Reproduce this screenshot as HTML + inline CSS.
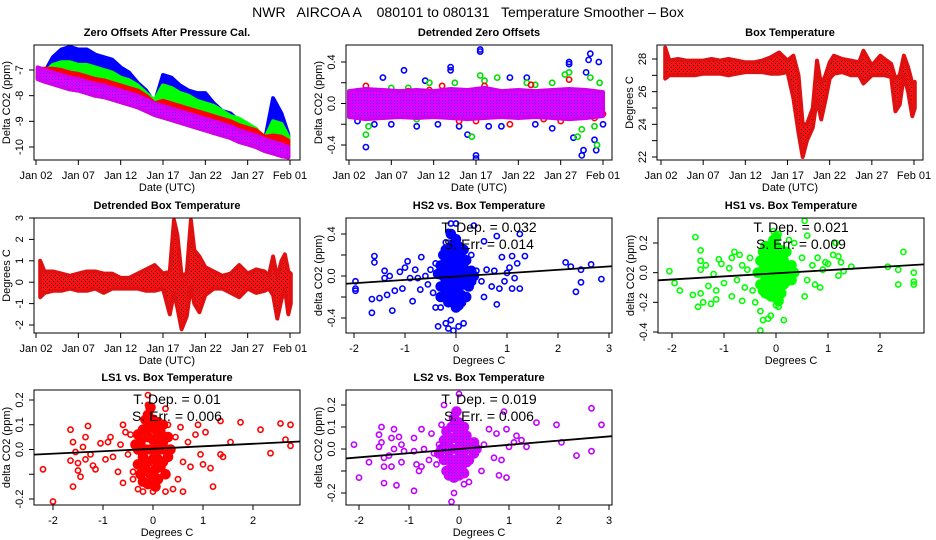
<!DOCTYPE html>
<html><head><meta charset="utf-8"><style>
html,body{margin:0;padding:0;background:#fff;}
svg{display:block;font-family:"Liberation Sans",sans-serif;}
</style></head><body>
<svg id="c" width="936" height="540" viewBox="0 0 936 540" xmlns="http://www.w3.org/2000/svg">
<defs>
<pattern id="pm" width="3" height="3" patternUnits="userSpaceOnUse"><rect width="3" height="3" fill="#e000ff"/><rect x="1" y="1" width="1" height="1" fill="#3030ff"/></pattern>
<pattern id="pr" width="4" height="4" patternUnits="userSpaceOnUse"><rect width="4" height="4" fill="#ff1010"/><rect x="1" y="1" width="1" height="1" fill="#000"/><rect x="3" y="3" width="1" height="1" fill="#400"/></pattern>
</defs>
<text x="468" y="17" text-anchor="middle" font-size="14" style="white-space:pre" xml:space="preserve">NWR   AIRCOA A    080101 to 080131   Temperature Smoother – Box</text>
</svg>
<script>
// ---------- data ----------
const dayTickLabels = ["Jan 02","Jan 07","Jan 12","Jan 17","Jan 22","Jan 27","Feb 01"];
const dayTicks = [0,5,10,15,20,25,30];

const p1Days = [0.2,1,2,3,4,5,6,7,8,9,10,11,12,13,14,15,16,17,18,19,20,21,22,23,24,25,26,27,28,29,29.8];
const p1BlueTop = [-7.2,-7.1,-6.5,-6.2,-6.1,-6.2,-6.2,-6.4,-6.5,-6.6,-6.9,-7.1,-7.5,-7.8,-8.3,-7.2,-7.3,-7.6,-7.8,-7.9,-7.9,-8.3,-8.6,-8.7,-9.0,-9.2,-9.5,-9.8,-8.1,-8.7,-9.5];
const p1GreenTop = [-7.1,-7.1,-6.8,-6.7,-6.7,-6.8,-6.8,-6.9,-7.0,-7.1,-7.3,-7.4,-7.6,-7.9,-8.2,-7.6,-7.7,-7.9,-8.0,-8.2,-8.3,-8.4,-8.6,-8.8,-8.9,-9.1,-9.3,-9.7,-9.0,-9.1,-9.6];
const p1RedTop = [-6.95,-6.95,-6.95,-7.0,-7.1,-7.15,-7.25,-7.35,-7.4,-7.5,-7.6,-7.7,-7.8,-8.0,-8.3,-8.2,-8.3,-8.4,-8.5,-8.6,-8.7,-8.8,-8.9,-9.0,-9.15,-9.25,-9.35,-9.6,-9.55,-9.6,-9.75];
const p1MagTop = [-6.9,-7.0,-7.1,-7.2,-7.3,-7.35,-7.45,-7.55,-7.6,-7.7,-7.8,-7.9,-8.0,-8.15,-8.3,-8.4,-8.5,-8.6,-8.7,-8.8,-8.9,-9.0,-9.1,-9.2,-9.35,-9.45,-9.55,-9.7,-9.8,-9.9,-10.0];
const p1MagLow = [-7.35,-7.45,-7.55,-7.65,-7.75,-7.8,-7.9,-8.0,-8.05,-8.15,-8.25,-8.35,-8.45,-8.6,-8.75,-8.85,-8.95,-9.05,-9.15,-9.25,-9.35,-9.45,-9.55,-9.65,-9.8,-9.9,-10.0,-10.15,-10.25,-10.35,-10.4];

const p2BandDays = [0,2,4,6,8,10,12,14,16,18,20,22,24,26,28,30];
const p2BandHigh = [0.12,0.14,0.13,0.12,0.13,0.12,0.14,0.13,0.15,0.12,0.13,0.12,0.13,0.14,0.13,0.11];
const p2BandLow = [-0.13,-0.15,-0.14,-0.13,-0.14,-0.13,-0.14,-0.15,-0.14,-0.13,-0.14,-0.13,-0.14,-0.15,-0.14,-0.12];
const p2Blue = [[1,-0.17],[2,-0.42],[3,-0.2],[4,0.25],[5,-0.2],[6.5,0.32],[8,-0.22],[9,0.22],[10.5,-0.2],[12,0.35],[12,0.32],[13,-0.22],[14,-0.3],[15,-0.5],[15,-0.53],[15.5,0.5],[15.5,0.52],[16.5,-0.22],[18,-0.22],[19,0.25],[21,0.25],[22,-0.2],[24,-0.24],[26,0.38],[26,0.4],[26.5,-0.33],[27.5,-0.5],[27.7,-0.45],[28,0.3],[28.3,0.42],[28.5,0.48],[29,-0.35],[29.2,-0.45],[29.5,0.4],[30,-0.2]];
const p2Green = [[1,0.12],[2,-0.3],[2.3,-0.22],[5,0.15],[7,0.15],[8,-0.15],[9.5,0.2],[12.5,0.2],[14.5,-0.32],[15.5,0.27],[16,0.22],[17.5,0.25],[21,0.2],[22,0.18],[24,0.2],[25.5,0.28],[26,0.3],[27,-0.32],[27.5,-0.25],[28.5,0.25],[29,-0.22],[29.3,-0.4],[29.6,0.2]];
const p2Red = [[1,-0.1],[2,0.17],[4,0.1],[7,0.12],[9.5,0.13],[11,0.17],[13,-0.17],[15,-0.17],[16,0.17],[19,-0.2],[21.5,0.18],[23,-0.15],[25,-0.17],[26,0.23],[27.5,-0.12],[29,-0.14],[30,-0.1]];

const p3Days = [0.5,1,2,3,4,5,6,7,8,9,10,11,12,13,14,15,15.7,16.3,16.8,17.3,18,18.5,19,19.5,20,20.5,21.5,22.5,23.5,24,25,26,26.5,27.3,27.8,28.3,28.8,29.3,29.8,30.1];
const p3High = [28.7,27.9,28.0,27.9,27.9,27.9,28.0,27.9,28.0,27.9,27.8,27.8,27.9,28.1,28.4,27.9,28.2,27.0,24.0,24.0,25.0,27.9,26.4,27.0,27.8,28.2,28.0,27.9,27.8,28.5,27.6,28.2,28.0,27.7,26.8,27.0,28.2,27.5,26.5,26.6];
const p3Low = [26.8,27.0,27.0,27.0,27.0,27.1,27.1,27.1,27.0,27.1,27.2,27.2,27.2,27.1,27.1,27.2,25.6,23.5,22.0,23.0,23.8,25.6,24.3,25.5,26.8,27.1,27.2,27.0,27.0,26.5,27.0,27.0,27.0,26.9,24.8,25.2,27.0,26.0,24.5,25.0];

const p4Days = [0.5,1,2,3,4,5,6,7,8,9,10,11,12,13,14,15,15.8,16.3,16.7,17.2,17.8,18.3,18.7,19.3,20,21,22,23,24,25,26,27,27.5,28,28.5,29,29.4,29.8,30.1];
const p4High = [1.0,0.5,0.5,0.4,0.3,0.4,0.5,0.5,0.4,0.4,0.2,0.2,0.4,0.6,0.8,0.4,0.5,2.9,2.2,0.3,0.4,2.9,1.5,1.2,0.7,0.5,0.3,0.4,0.8,0.4,0.6,0.5,0.3,1.2,0.2,1.0,1.3,0.5,0.4];
const p4Low = [-0.7,-0.5,-0.4,-0.4,-0.3,-0.4,-0.4,-0.3,-0.5,-0.3,-0.3,-0.3,-0.3,-0.4,-0.4,-0.3,-1.5,-0.5,-1.2,-2.2,-1.6,-0.2,-1.0,-1.4,-0.6,-0.3,-0.3,-0.5,-0.7,-0.3,-0.5,-0.4,-0.3,-0.6,-1.7,-0.8,-0.3,-1.5,-1.0];

const hs2Pts = [[-1.97,-0.05],[-1.97,-0.12],[-1.97,-0.14],[-1.6,0.19],[-1.6,0.13],[-1.65,-0.22],[-1.65,-0.35],[-1.5,-0.21],[-1.4,0.05],[-1.4,-0.02],[-1.35,-0.18],[-1.3,0.0],[-1.25,-0.33],[-1.2,-0.14],[-1.1,0.04],[-1.05,-0.12],[-1.0,0.08],[-0.95,0.14],[-0.9,-0.02],[-0.85,-0.24],[-0.8,0.06],[-0.75,-0.02],[-0.7,-0.13],[-0.68,0.18],[-0.6,0.0],[-0.55,-0.08],[-0.5,0.06],[-0.45,-0.16],[-0.4,0.12],[-0.4,-0.3],[-0.35,-0.48],[-0.3,-0.3],[-0.2,-0.45],[-0.15,-0.5],[-0.1,-0.42],[-0.05,-0.52],[0.05,-0.48],[0.15,-0.45],[-0.2,0.32],[-0.15,0.42],[-0.1,0.5],[0.0,0.5],[0.35,0.48],[0.55,0.33],[0.3,0.2],[0.4,0.05],[0.5,-0.05],[0.55,-0.2],[0.6,0.06],[0.7,-0.1],[0.75,0.05],[0.8,-0.27],[0.8,0.38],[0.85,-0.12],[0.9,0.18],[0.95,-0.05],[1.0,0.03],[1.05,0.08],[1.1,0.19],[1.15,-0.02],[1.2,0.12],[1.25,0.4],[1.35,0.19],[1.1,-0.12],[1.25,-0.12],[2.15,0.13],[2.25,0.09],[2.35,-0.15],[2.45,-0.06],[2.45,0.06],[2.65,0.11],[2.85,-0.03]];
const hs2Core = [[-0.3,0.1],[-0.3,-0.1],[-0.25,0.0],[-0.25,0.2],[-0.25,-0.2],[-0.2,0.05],[-0.2,-0.05],[-0.2,0.15],[-0.2,-0.15],[-0.15,0.25],[-0.15,0.0],[-0.15,-0.25],[-0.1,0.1],[-0.1,-0.1],[-0.1,0.2],[-0.1,-0.2],[-0.05,0.3],[-0.05,0.0],[-0.05,0.15],[-0.05,-0.15],[0.0,0.05],[0.0,-0.05],[0.0,0.22],[0.0,-0.22],[0.0,0.35],[0.05,0.1],[0.05,-0.1],[0.05,0.28],[0.05,-0.28],[0.1,0.0],[0.1,0.18],[0.1,-0.18],[0.15,0.08],[0.15,-0.08],[0.15,0.25],[0.2,0.0],[0.2,-0.2],[0.2,0.15],[0.25,-0.1],[0.3,0.05],[0.3,-0.05],[-0.35,0.02],[0.35,0.0],[-0.1,0.4],[0.0,-0.3],[-0.05,0.08],[0.05,0.02],[-0.2,0.25],[0.1,-0.25],[-0.3,-0.2]];
const hs2Slope = [0.032], hs2Int = [-0.005];

const hs1Pts = [[-2.05,0.01],[-1.95,-0.07],[-1.85,-0.12],[-1.6,-0.15],[-1.55,0.24],[-1.5,-0.23],[-1.45,-0.14],[-1.45,0.15],[-1.45,0.08],[-1.45,0.02],[-1.4,-0.2],[-1.35,0.05],[-1.3,-0.09],[-1.25,-0.21],[-1.2,-0.01],[-1.15,-0.12],[-1.15,-0.18],[-1.1,0.09],[-1.05,0.06],[-1.0,-0.07],[-0.9,0.03],[-0.85,0.1],[-0.85,-0.16],[-0.8,0.14],[-0.75,-0.05],[-0.7,0.12],[-0.65,-0.19],[-0.65,0.05],[-0.6,-0.1],[-0.55,0.02],[-0.5,0.1],[-0.45,-0.12],[-0.4,-0.2],[-0.3,-0.26],[-0.3,-0.39],[-0.25,-0.32],[-0.15,-0.31],[-0.1,-0.29],[0.0,-0.22],[0.05,-0.23],[0.15,-0.32],[-0.05,0.28],[0.05,0.26],[0.55,0.35],[0.6,0.25],[0.25,0.22],[0.35,0.2],[0.5,0.1],[0.55,-0.16],[0.6,-0.05],[0.7,0.05],[0.75,-0.08],[0.8,0.1],[0.85,-0.1],[0.9,0.02],[0.95,0.07],[1.0,0.06],[1.1,0.12],[1.15,0.2],[1.2,0.11],[1.2,-0.02],[1.25,0.07],[1.3,0.01],[1.45,0.04],[2.15,0.04],[2.35,0.02],[2.35,-0.08],[2.45,0.14],[2.65,0.0],[2.65,-0.06],[2.65,-0.08]];
const hs1Core = [[-0.35,0.0],[-0.3,0.08],[-0.3,-0.08],[-0.25,0.02],[-0.25,0.14],[-0.25,-0.12],[-0.2,0.06],[-0.2,-0.04],[-0.2,0.18],[-0.2,-0.14],[-0.15,0.0],[-0.15,0.1],[-0.15,-0.1],[-0.1,0.05],[-0.1,-0.05],[-0.1,0.16],[-0.1,-0.16],[-0.05,0.0],[-0.05,0.12],[-0.05,-0.12],[-0.05,0.22],[0.0,0.06],[0.0,-0.06],[0.0,0.18],[0.0,-0.17],[0.05,0.0],[0.05,0.1],[0.05,-0.1],[0.1,0.04],[0.1,-0.04],[0.1,0.15],[0.1,-0.14],[0.15,0.0],[0.15,0.08],[0.15,-0.08],[0.2,0.03],[0.2,-0.06],[0.2,0.14],[0.25,-0.02],[0.3,0.05],[0.3,-0.05],[0.35,0.0],[0.0,0.24],[0.05,-0.19]];
const hs1Slope = [0.021], hs1Int = [-0.004];

const ls1Pts = [[-2.2,-0.08],[-2.0,-0.21],[-1.65,0.08],[-1.65,-0.045],[-1.6,-0.15],[-1.6,0.03],[-1.55,-0.01],[-1.5,-0.055],[-1.5,-0.085],[-1.45,-0.11],[-1.4,0.01],[-1.35,-0.04],[-1.35,0.05],[-1.3,0.095],[-1.25,-0.02],[-1.2,-0.065],[-1.15,-0.08],[-1.05,0.025],[-0.95,-0.04],[-0.9,0.03],[-0.85,0.05],[-0.8,-0.03],[-0.7,-0.09],[-0.65,0.02],[-0.6,0.1],[-0.6,-0.135],[-0.55,0.07],[-0.5,-0.02],[-0.45,0.06],[-0.4,-0.12],[-0.4,-0.09],[-0.3,-0.16],[-0.2,-0.17],[-0.1,0.22],[-0.1,0.18],[0.0,-0.17],[0.25,0.165],[0.25,-0.17],[0.3,0.1],[0.4,-0.16],[0.45,0.05],[0.5,-0.12],[0.55,0.09],[0.6,-0.17],[0.6,-0.05],[0.7,0.03],[0.75,-0.07],[0.85,0.06],[0.9,0.1],[0.95,-0.02],[1.0,-0.06],[1.05,0.07],[1.15,-0.075],[1.2,-0.15],[1.35,0.115],[1.35,-0.02],[1.4,-0.03],[1.55,0.03],[1.75,0.11],[2.15,0.08],[2.35,-0.015],[2.55,0.105],[2.65,0.04],[2.75,0.1],[2.75,0.015]];
const ls1Core = [[-0.3,0.0],[-0.3,0.06],[-0.3,-0.06],[-0.25,0.03],[-0.25,-0.1],[-0.2,0.08],[-0.2,-0.03],[-0.2,-0.13],[-0.15,0.0],[-0.15,0.12],[-0.15,-0.08],[-0.1,0.05],[-0.1,-0.05],[-0.1,0.14],[-0.1,-0.14],[-0.05,0.0],[-0.05,0.09],[-0.05,-0.1],[-0.05,0.17],[0.0,0.04],[0.0,-0.04],[0.0,0.12],[0.0,-0.12],[0.05,0.0],[0.05,0.08],[0.05,-0.08],[0.05,-0.15],[0.1,0.04],[0.1,-0.04],[0.1,0.11],[0.1,-0.12],[0.15,0.0],[0.15,0.07],[0.15,-0.07],[0.2,0.03],[0.2,-0.05],[0.2,0.1],[0.25,0.0],[0.25,-0.1],[0.3,0.05],[0.3,-0.03],[-0.35,0.02],[0.35,0.0]];
const ls1Slope = [0.01], ls1Int = [0.003];

const ls2Pts = [[-2.1,0.02],[-2.0,-0.13],[-1.8,-0.06],[-1.6,0.065],[-1.6,0.01],[-1.55,0.1],[-1.55,0.03],[-1.5,-0.04],[-1.5,-0.08],[-1.5,-0.155],[-1.4,-0.03],[-1.35,0.05],[-1.35,-0.08],[-1.3,0.09],[-1.3,0.0],[-1.25,-0.165],[-1.2,0.055],[-1.15,0.02],[-1.15,-0.06],[-1.1,-0.01],[-0.9,-0.19],[-0.9,0.05],[-0.9,-0.01],[-0.85,-0.07],[-0.8,-0.1],[-0.75,0.09],[-0.75,-0.08],[-0.7,0.0],[-0.6,-0.05],[-0.55,0.07],[-0.5,-0.02],[-0.45,-0.07],[-0.4,0.02],[-0.35,0.11],[-0.3,0.2],[-0.15,-0.24],[-0.1,-0.2],[0.0,0.25],[0.1,-0.16],[0.2,-0.15],[0.45,-0.1],[0.5,0.02],[0.6,0.09],[0.7,-0.04],[0.75,0.07],[0.8,-0.12],[0.85,-0.05],[0.9,0.17],[0.95,0.09],[0.95,-0.13],[1.0,0.01],[1.1,0.03],[1.15,0.06],[1.25,0.04],[1.35,0.01],[1.55,0.12],[1.95,0.11],[2.05,0.03],[2.35,-0.03],[2.65,0.185],[2.65,-0.01],[2.85,0.11]];
const ls2Core = [[-0.35,0.0],[-0.3,0.04],[-0.3,-0.05],[-0.25,0.0],[-0.25,-0.1],[-0.25,0.08],[-0.2,0.04],[-0.2,-0.04],[-0.2,-0.12],[-0.15,0.0],[-0.15,0.1],[-0.15,-0.08],[-0.1,0.05],[-0.1,-0.05],[-0.1,0.14],[-0.1,-0.13],[-0.05,0.0],[-0.05,0.09],[-0.05,-0.09],[-0.05,0.17],[0.0,0.04],[0.0,-0.04],[0.0,0.12],[0.0,-0.12],[0.05,0.0],[0.05,0.08],[0.05,-0.08],[0.1,0.04],[0.1,-0.04],[0.1,0.1],[0.1,-0.11],[0.15,0.0],[0.15,0.06],[0.15,-0.06],[0.2,0.02],[0.2,-0.05],[0.25,0.0],[0.3,0.03],[0.3,-0.02],[0.35,0.0],[-0.4,-0.02]];
const ls2Slope = [0.019], ls2Int = [0.0];

// ---------- drawing ----------
const svg = document.getElementById('c');
const NS = 'http://www.w3.org/2000/svg';
function mk(tag, attrs, parent){ const e=document.createElementNS(NS,tag); for(const k in attrs) e.setAttribute(k,attrs[k]); (parent||svg).appendChild(e); return e; }
function lin(r){ const s=(r[3]-r[1])/(r[2]-r[0]); return v=>r[1]+(v-r[0])*s; }

let clipN=0;
function panel(cfg){
  const g = mk('g',{});
  
  
  const X=lin(cfg.xr), Y=lin(cfg.yr);
  const b=cfg.box;
  const id='cl'+(clipN++);
  const cp=mk('clipPath',{id:id},g); mk('rect',{x:b[0],y:b[1],width:b[2]-b[0],height:b[3]-b[1]},cp);
  const plot=mk('g',{'clip-path':'url(#'+id+')'},g);
  
  
  const t=mk('text',{x:(b[0]+b[2])/2,y:b[1]-9,'text-anchor':'middle','font-size':'11','font-weight':'bold'},g);
  t.textContent=cfg.title;
  
  
  const bx=mk('rect',{x:b[0],y:b[1],width:b[2]-b[0],height:b[3]-b[1],fill:'none',stroke:'#000','stroke-width':'1'},g);
  
  
  const xa=mk('g',{},g);
  
  
  mk('line',{x1:X(cfg.xt[0]),x2:X(cfg.xt[cfg.xt.length-1]),y1:b[3],y2:b[3],stroke:'#000'},xa);
  cfg.xt.forEach((v,i)=>{
    mk('line',{x1:X(v),x2:X(v),y1:b[3],y2:b[3]+5,stroke:'#000'},xa);
    const tl=mk('text',{x:X(v),y:b[3]+19,'text-anchor':'middle','font-size':'11'},xa);
    tl.textContent=cfg.xl[i];
    
    
  });
  const xt=mk('text',{x:(b[0]+b[2])/2,y:b[3]+31,'text-anchor':'middle','font-size':'11'},g);
  xt.textContent=cfg.xtitle;
  
  
  const ya=mk('g',{},g);
  
  
  mk('line',{x1:b[0],x2:b[0],y1:Y(cfg.yt[0]),y2:Y(cfg.yt[cfg.yt.length-1]),stroke:'#000'},ya);
  cfg.yt.forEach((v,i)=>{
    mk('line',{x1:b[0]-5,x2:b[0],y1:Y(v),y2:Y(v),stroke:'#000'},ya);
    if(cfg.yl[i]!==''){
      const yy=Y(v), xx=b[0]-11;
      const tl=mk('text',{x:xx,y:yy,'text-anchor':'middle','font-size':'11',transform:'rotate(-90 '+xx+' '+yy+')'},ya);
      tl.textContent=cfg.yl[i];
      
      
    }
  });
  const yx=b[0]-24, yy=(b[1]+b[3])/2;
  const ytl=mk('text',{x:yx,y:yy,'text-anchor':'middle','font-size':'11',transform:'rotate(-90 '+yx+' '+yy+')'},g);
  ytl.textContent=cfg.ytitle;
  
  
  return {X,Y,plot,g,b};
}
function band(P,xs,hi,lo,fill,stroke,name){
  let pts=xs.map((d,i)=>P.X(d).toFixed(1)+','+P.Y(hi[i]).toFixed(1));
  for(let i=xs.length-1;i>=0;i--) pts.push(P.X(xs[i]).toFixed(1)+','+P.Y(lo[i]).toFixed(1));
  const e=mk('polygon',{points:pts.join(' '),fill:fill,stroke:stroke,'stroke-width':'4','stroke-linejoin':'round'},P.plot);
  
  
}
function pts(P,arr,color,name,filled){
  arr.forEach(p=>{
    const c=mk('circle',{cx:P.X(p[0]).toFixed(1),cy:P.Y(p[1]).toFixed(1),r:filled?4.5:2.6,fill:filled?color:'none',stroke:color,'stroke-width':'1.6'},P.plot);
    
    
  });
}
function reg(P,slope,inter,name){
  const x0=-3,x1=4;
  const l=mk('line',{x1:P.X(x0),y1:P.Y(inter[0]+slope[0]*x0),x2:P.X(x1),y2:P.Y(inter[0]+slope[0]*x1),stroke:'#000','stroke-width':'1.8'},P.plot);
  
  
}
function note(P,slope,err,ty){
  const cx=(P.b[0]+P.b[2])/2+10;
  const a=mk('text',{x:cx,y:ty,'text-anchor':'middle','font-size':'14'},P.g);
  a.textContent='T. Dep. =  '+slope;
  
  
  const b=mk('text',{x:cx,y:ty+17,'text-anchor':'middle','font-size':'14'},P.g);
  b.textContent='S. Err. =  '+err;
  
  
}

let P=panel({name:'zero-offsets-panel',title:'Zero Offsets After Pressure Cal.',box:[34,45,300,160],xr:[0,36,30,290],yr:[-7,70,-10,147],xt:dayTicks,xl:dayTickLabels,yt:[-7,-8,-9,-10],yl:['-7','-8','-9','-10'],xtitle:'Date (UTC)',ytitle:'Delta CO2 (ppm)'});
band(P,p1Days,p1BlueTop,p1MagLow,'#0000ff','#0000ff','hs2-band');
band(P,p1Days,p1GreenTop,p1MagLow,'#00ff00','#00ff00','hs1-band');
band(P,p1Days,p1RedTop,p1MagLow,'#ff0000','#ff0000','ls1-band');
band(P,p1Days,p1MagTop,p1MagLow,'url(#pm)','#d000f0','ls2-band');

P=panel({name:'detrended-zero-offsets-panel',title:'Detrended Zero Offsets',box:[346,45,612,160],xr:[0,349,30,603],yr:[0.4,62,-0.4,145],xt:dayTicks,xl:dayTickLabels,yt:[-0.4,-0.2,0,0.2,0.4],yl:['-0.4','','0.0','','0.4'],xtitle:'Date (UTC)',ytitle:'Delta CO2  (ppm)'});
pts(P,p2Blue,'#0000ff','hs2-point');
pts(P,p2Green,'#00e000','hs1-point');
pts(P,p2Red,'#ff0000','ls1-point');
band(P,p2BandDays,p2BandHigh,p2BandLow,'url(#pm)','#d000f0','ls2-band');

P=panel({name:'box-temperature-panel',title:'Box Temperature',box:[657,45,923,160],xr:[0,661,30,914],yr:[28,59,22,157],xt:dayTicks,xl:dayTickLabels,yt:[22,23,24,25,26,27,28],yl:['22','','24','','26','','28'],xtitle:'Date (UTC)',ytitle:'Degrees C'});
band(P,p3Days,p3High,p3Low,'url(#pr)','#e01010','box-temperature-band');

P=panel({name:'detrended-box-temperature-panel',title:'Detrended Box Temperature',box:[34,218,300,333],xr:[0,36,30,290],yr:[3,218,-2,325],xt:dayTicks,xl:dayTickLabels,yt:[-2,-1,0,1,2,3],yl:['-2','-1','0','1','2','3'],xtitle:'Date (UTC)',ytitle:'Degrees C'});
band(P,p4Days,p4High,p4Low,'url(#pr)','#e01010','detrended-temperature-band');

P=panel({name:'hs2-vs-temperature-panel',title:'HS2 vs. Box Temperature',box:[346,218,612,333],xr:[-2,354,3,609],yr:[0.4,234,-0.4,318],xt:[-2,-1,0,1,2,3],xl:['-2','-1','0','1','2','3'],yt:[-0.4,-0.2,0,0.2,0.4],yl:['-0.4','','0.0','','0.4'],xtitle:'Degrees C',ytitle:'delta CO2 (ppm)'});
pts(P,hs2Core,'#0000ff','hs2-core-point',true);
pts(P,hs2Pts,'#0000ff','hs2-point');
reg(P,hs2Slope,hs2Int,'hs2-regression-line');
note(P,'0.032','0.014',232);

P=panel({name:'hs1-vs-temperature-panel',title:'HS1 vs. Box Temperature',box:[658,218,924,333],xr:[-2,672,2,880],yr:[0.2,243,-0.4,332],xt:[-2,-1,0,1,2],xl:['-2','-1','0','1','2'],yt:[-0.4,-0.2,0,0.2],yl:['-0.4','-0.2','0.0','0.2'],xtitle:'Degrees C',ytitle:'delta CO2 (ppm)'});
pts(P,hs1Core,'#00ff00','hs1-core-point',true);
pts(P,hs1Pts,'#00ff00','hs1-point');
reg(P,hs1Slope,hs1Int,'hs1-regression-line');
note(P,'0.021','0.009',232);

P=panel({name:'ls1-vs-temperature-panel',title:'LS1 vs. Box Temperature',box:[34,390,300,505],xr:[-2,53,2,253],yr:[0.2,400,-0.2,499],xt:[-2,-1,0,1,2],xl:['-2','-1','0','1','2'],yt:[-0.2,-0.1,0,0.1,0.2],yl:['-0.2','','0.0','0.1','0.2'],xtitle:'Degrees C',ytitle:'delta CO2 (ppm)'});
pts(P,ls1Core,'#ff0000','ls1-core-point',true);
pts(P,ls1Pts,'#ff0000','ls1-point');
reg(P,ls1Slope,ls1Int,'ls1-regression-line');
note(P,'0.01','0.006',404);

P=panel({name:'ls2-vs-temperature-panel',title:'LS2 vs. Box Temperature',box:[346,390,612,505],xr:[-2,359,3,609],yr:[0.2,405,-0.2,493],xt:[-2,-1,0,1,2,3],xl:['-2','-1','0','1','2','3'],yt:[-0.2,-0.1,0,0.1,0.2],yl:['-0.2','','0.0','0.1','0.2'],xtitle:'Degrees C',ytitle:'delta CO2 (ppm)'});
pts(P,ls2Core,'url(#pm)','ls2-core-point',true);
pts(P,ls2Pts,'#c000ff','ls2-point');
reg(P,ls2Slope,ls2Int,'ls2-regression-line');
note(P,'0.019','0.006',404);
</script>
</body></html>
